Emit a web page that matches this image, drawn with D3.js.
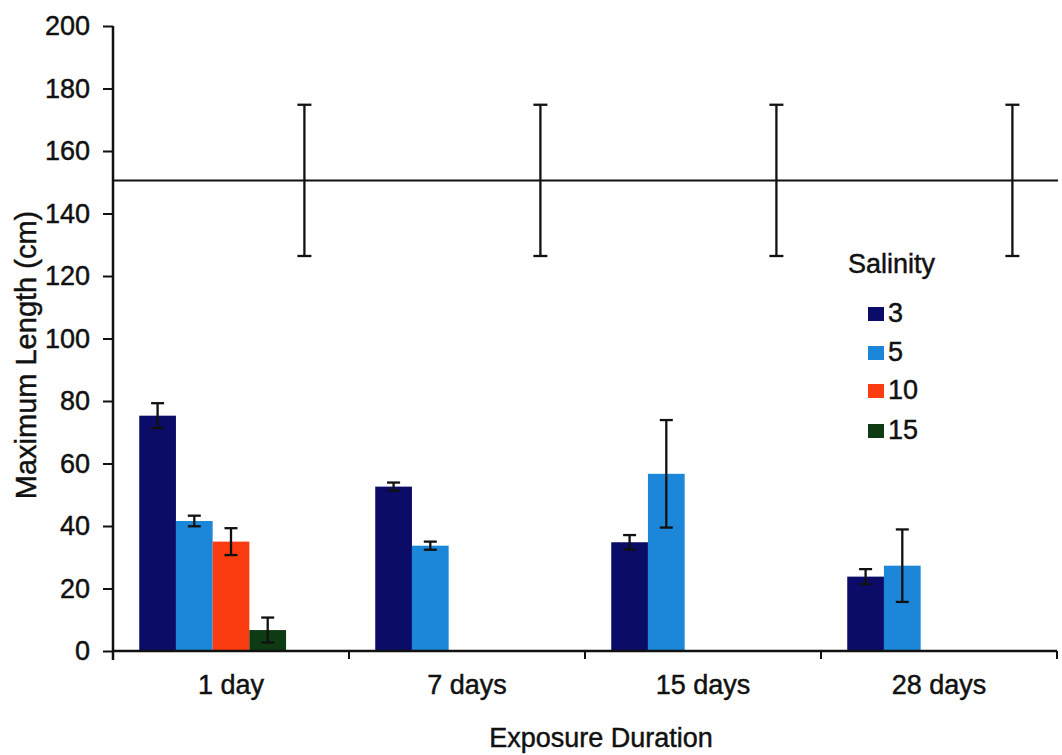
<!DOCTYPE html>
<html>
<head>
<meta charset="utf-8">
<script src="https://cdn.jsdelivr.net/npm/d3@7/dist/d3.min.js"></script>
<style>
  html, body { margin: 0; padding: 0; background: #fff; }
  svg { display: block; }
  text { font-family: "Liberation Sans", Arial, sans-serif; fill: #111; stroke: #111; stroke-width: 0.45px; }
</style>
</head>
<body>
<svg id="chart" width="1062" height="755"></svg>
<script>
// Exposure durations on the x axis
const durations = ["1 day", "7 days", "15 days", "28 days"];
// Salinity treatments (legend order)
const salinities = ["3", "5", "10", "15"];
const salinityColors = ["#0b0b68", "#1c87d8", "#fb3c10", "#0f3b12"];

// Mean maximum length (cm) per salinity, one value per duration (null = no plants)
const sal3 = [75.3, 52.6, 34.8, 23.8];
const sal5 = [41.6, 33.7, 56.7, 27.3];
const sal10 = [35.0, null, null, null];
const sal15 = [6.7, null, null, null];
// Error bar half-widths (cm)
const sal3Err = [4.0, 1.3, 2.3, 2.4];
const sal5Err = [1.7, 1.3, 17.2, 11.6];
const sal10Err = [4.3, null, null, null];
const sal15Err = [4.0, null, null, null];

// Control reference length with its error
const controlMean = [150.6, 150.6, 150.6, 150.6];
const controlErr = [24.2, 24.2, 24.2, 24.2];

// Y axis ticks
const yTicks = [0, 20, 40, 60, 80, 100, 120, 140, 160, 180, 200];

const seriesValues = [sal3, sal5, sal10, sal15];
const seriesErrors = [sal3Err, sal5Err, sal10Err, sal15Err];

const svg = d3.select("#chart");
const plotLeft = 113, plotRight = 1057, plotTop = 26, plotBottom = 651;

const x = d3.scaleBand().domain(durations).range([plotLeft, plotRight]).paddingInner(0).paddingOuter(0);
const slots = d3.scaleBand().domain([...salinities, "control"]).range([0, x.bandwidth()])
  .paddingInner(0).paddingOuter(0.715);
const y = d3.scaleLinear().domain([0, 200]).range([plotBottom, plotTop]);

const fontSize = 27;

// Bars
salinities.forEach((s, i) => {
  const rows = durations.map((d, j) => ({ d, v: seriesValues[i][j], e: seriesErrors[i][j] }))
    .filter(r => r.v != null);
  svg.append("g").selectAll("rect").data(rows).join("rect")
    .attr("x", r => x(r.d) + slots(s))
    .attr("y", r => y(r.v))
    .attr("width", slots.bandwidth())
    .attr("height", r => y(0) - y(r.v))
    .attr("fill", salinityColors[i]);
});

// Error bars drawn as a stem with two caps
function errorBars(rows, cx, capW) {
  const g = svg.append("g").attr("stroke", "#111").attr("stroke-width", 2.3);
  rows.forEach(r => {
    const xc = cx(r);
    g.append("line").attr("x1", xc).attr("x2", xc).attr("y1", y(r.v + r.e)).attr("y2", y(r.v - r.e));
    g.append("line").attr("x1", xc - capW / 2).attr("x2", xc + capW / 2).attr("y1", y(r.v + r.e)).attr("y2", y(r.v + r.e));
    g.append("line").attr("x1", xc - capW / 2).attr("x2", xc + capW / 2).attr("y1", y(r.v - r.e)).attr("y2", y(r.v - r.e));
  });
}
salinities.forEach((s, i) => {
  const rows = durations.map((d, j) => ({ d, v: seriesValues[i][j], e: seriesErrors[i][j] }))
    .filter(r => r.v != null);
  errorBars(rows, r => x(r.d) + slots(s) + slots.bandwidth() / 2, 13);
});

// Control level line across the plot with its error bars
svg.append("path")
  .attr("d", d3.line()([[plotLeft, y(controlMean[0])], [plotRight + 1, y(controlMean[controlMean.length - 1])]]))
  .attr("stroke", "#111").attr("stroke-width", 2).attr("fill", "none");
errorBars(durations.map((d, j) => ({ d, v: controlMean[j], e: controlErr[j] })),
  r => x(r.d) + slots("control") + slots.bandwidth() / 2, 14);

// Y axis
const yAxis = svg.append("g").attr("transform", `translate(${plotLeft},0)`)
  .call(d3.axisLeft(y).tickValues(yTicks).tickSize(10).tickPadding(13).tickSizeOuter(0));
yAxis.select(".domain").remove();
yAxis.selectAll(".tick line").attr("stroke", "#111").attr("stroke-width", 2);
yAxis.selectAll(".tick text").attr("font-size", fontSize).attr("font-family", "Liberation Sans, Arial, sans-serif").attr("fill", "#111");
svg.append("line").attr("x1", plotLeft).attr("x2", plotLeft).attr("y1", plotTop).attr("y2", plotBottom + 9)
  .attr("stroke", "#111").attr("stroke-width", 2.5);

// X axis: baseline, boundary ticks, category labels
svg.append("line").attr("x1", plotLeft).attr("x2", plotRight).attr("y1", plotBottom).attr("y2", plotBottom)
  .attr("stroke", "#111").attr("stroke-width", 2.5);
const bounds = durations.map(d => x(d)).concat([plotRight]);
svg.append("g").selectAll("line").data(bounds.slice(1)).join("line")
  .attr("x1", d => d).attr("x2", d => d).attr("y1", plotBottom).attr("y2", plotBottom + 8)
  .attr("stroke", "#111").attr("stroke-width", 2);
svg.append("g").selectAll("text").data(durations).join("text")
  .attr("x", d => x(d) + x.bandwidth() / 2)
  .attr("y", 694)
  .attr("text-anchor", "middle")
  .attr("font-size", fontSize)
  .text(d => d);

// Axis titles
svg.append("text").attr("x", 601).attr("y", 747).attr("text-anchor", "middle")
  .attr("font-size", fontSize).text("Exposure Duration");
svg.append("text").attr("transform", "translate(36,355) rotate(-90)").attr("text-anchor", "middle")
  .attr("font-size", 29).text("Maximum Length (cm)");

// Legend
const legend = svg.append("g");
legend.append("text").attr("x", 848).attr("y", 273).attr("font-size", fontSize).text("Salinity");
const rowY = [322, 361, 399, 439];
salinities.forEach((s, i) => {
  legend.append("rect").attr("x", 868).attr("y", rowY[i] - 15).attr("width", 16).attr("height", 14)
    .attr("fill", salinityColors[i]);
  legend.append("text").attr("x", 888).attr("y", rowY[i]).attr("font-size", fontSize).text(s);
});
</script>
</body>
</html>
